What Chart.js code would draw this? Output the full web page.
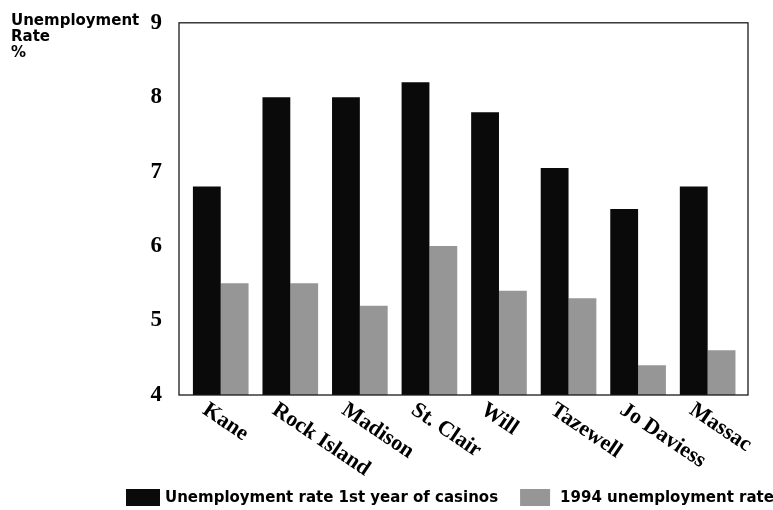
<!DOCTYPE html>
<html lang="en">
<head>
    <meta charset="UTF-8">
    <title>Unemployment Rate</title>
    <style>
        body { margin: 0; background: #fff; }
        .chart-box { width: 773px; height: 510px; }
    </style>
</head>
<body>
    <div class="chart-box">
        <canvas id="rateChart"></canvas>
    </div>

    <script src="https://cdn.jsdelivr.net/npm/chart.js"></script>
    <script>
        // Counties and rates (%)
        const counties = ['Kane', 'Rock Island', 'Madison', 'St. Clair', 'Will', 'Tazewell', 'Jo Daviess', 'Massac'];
        const firstYearRates = [6.8, 8.0, 8.0, 8.2, 7.8, 7.05, 6.5, 6.8];
        const rates1994 = [5.5, 5.5, 5.2, 6.0, 5.4, 5.3, 4.4, 4.6];
        const seriesNames = ['Unemployment rate 1st year of casinos', '1994 unemployment rate'];
        const yTicks = [4, 5, 6, 7, 8, 9];
        const titleLines = ['Unemployment', 'Rate', '%'];

        const sansFont = '"DejaVu Sans", sans-serif';
        const serifFont = '"Liberation Serif", "Times New Roman", serif';

        // frame, rotated county names, axis title and legend
        const decorations = {
            id: 'decorations',
            afterDraw(chart) {
                const ctx = chart.ctx;
                const area = chart.chartArea;
                const xScale = chart.scales.x;

                ctx.save();
                ctx.strokeStyle = '#1a1a1a';
                ctx.lineWidth = 1.3;
                ctx.strokeRect(area.left, area.top, area.right - area.left, area.bottom - area.top);

                // county names, tilted downwards
                ctx.fillStyle = '#000';
                ctx.font = 'bold 22px ' + serifFont;
                ctx.textAlign = 'left';
                ctx.textBaseline = 'top';
                counties.forEach((name, i) => {
                    const x = xScale.getPixelForValue(i);
                    ctx.save();
                    ctx.translate(x - 10, area.bottom + 4);
                    ctx.rotate(34 * Math.PI / 180);
                    ctx.fillText(name, 0, 0);
                    ctx.restore();
                });

                // y axis title, top left
                ctx.font = 'bold 15px ' + sansFont;
                ctx.textBaseline = 'alphabetic';
                titleLines.forEach((line, i) => {
                    ctx.fillText(line, 11, 25 + i * 16);
                });

                // legend along the bottom
                ctx.font = 'bold 15px ' + sansFont;
                ctx.textBaseline = 'middle';
                let lx = 126;
                const ly = 497;
                chart.data.datasets.forEach((ds, i) => {
                    const boxW = i === 0 ? 34 : 30;
                    ctx.fillStyle = ds.backgroundColor;
                    ctx.fillRect(lx, ly - 8, boxW, 17);
                    lx += boxW + (i === 0 ? 5 : 10);
                    ctx.fillStyle = '#000';
                    ctx.fillText(ds.label, lx, ly + 1);
                    lx += ctx.measureText(ds.label).width + 22;
                });
                ctx.restore();
            }
        };

        const ctx = document.getElementById('rateChart').getContext('2d');
        const chart = new Chart(ctx, {
            type: 'bar',
            data: {
                datasets: [
                    {
                        label: seriesNames[0],
                        data: firstYearRates.map((v, i) => ({ x: i, y: v })),
                        backgroundColor: '#0a0a0a',
                        categoryPercentage: 0.8,
                        barPercentage: 1.0
                    },
                    {
                        label: seriesNames[1],
                        data: rates1994.map((v, i) => ({ x: i, y: v })),
                        backgroundColor: '#969696',
                        categoryPercentage: 0.8,
                        barPercentage: 1.0
                    }
                ]
            },
            options: {
                responsive: true,
                maintainAspectRatio: false,
                animation: false,
                layout: {
                    padding: { top: 20, right: 25, bottom: 115, left: 0 }
                },
                scales: {
                    x: {
                        type: 'linear',
                        min: -0.6,
                        max: 7.58,
                        offset: false,
                        display: false,
                        grid: { display: false }
                    },
                    y: {
                        min: yTicks[0],
                        max: yTicks[yTicks.length - 1],
                        beginAtZero: false,
                        afterBuildTicks: (scale) => {
                            scale.ticks = yTicks.map(v => ({ value: v }));
                        },
                        afterFit: (scale) => {
                            scale.width = 179;
                        },
                        grid: { display: false },
                        border: { display: false },
                        ticks: {
                            color: '#000',
                            padding: 9,
                            font: { family: serifFont, size: 23, weight: 'bold' }
                        }
                    }
                },
                plugins: {
                    legend: { display: false },
                    tooltip: { enabled: false }
                }
            },
            plugins: [decorations]
        });
    </script>
</body>
</html>
